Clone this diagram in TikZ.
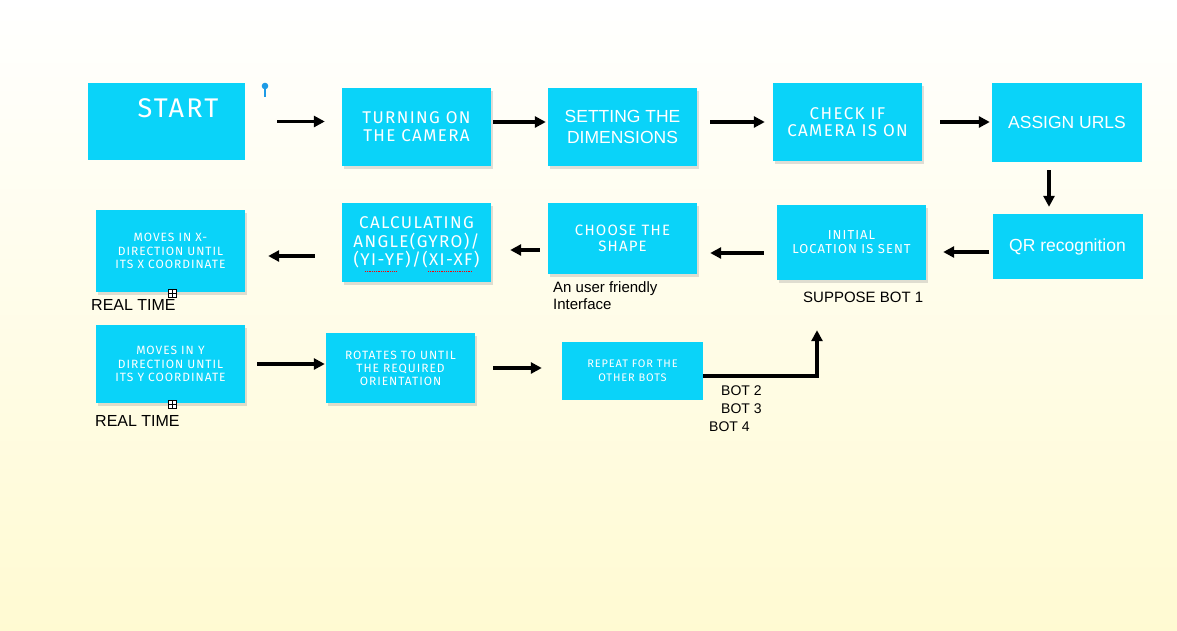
\documentclass[tikz,border=0pt]{standalone}
\usepackage{fontspec}
\newfontfamily\arialfont{Liberation Sans}
\newfontfamily\decofont[LetterSpace=8]{Fira Sans}
\usetikzlibrary{arrows.meta,shadows}
\definecolor{boxcyan}{HTML}{0AD3F9}
\definecolor{creamy}{HTML}{FFFAD2}
\definecolor{pinblue}{HTML}{1E9BE6}

\begin{document}
\begin{tikzpicture}[x=1pt, y=-1pt,
    box/.style={fill=boxcyan, minimum width=149pt, inner sep=2pt, align=center, text=white},
    shadowed/.style={drop shadow={opacity=0.25, shadow xshift=2pt, shadow yshift=-2.5pt}},
    sans/.style={font=\arialfont\fontsize{#1}{#1}\selectfont},
    deco/.style={font=\decofont\fontsize{#1}{#1}\selectfont},
    lbl/.style={text=black, inner sep=0pt, font=\arialfont\fontsize{15}{17}\selectfont},
    arr/.style={line width=3.2pt, -{Triangle[length=11pt,width=11pt]}},
    plusbox/.style={draw, thin, fill=white, minimum size=8pt, inner sep=0pt,
      path picture={\draw[thin] (path picture bounding box.north) -- (path picture bounding box.south)
        (path picture bounding box.west) -- (path picture bounding box.east);}}]
    \shade[top color=white, bottom color=creamy] (0,0) rectangle (1177,630);
    \useasboundingbox (0,0) rectangle (1177,630);

    \node [box, minimum width=157pt, minimum height=77pt] (start) at (166.5,121.5) {};
    \node [text=white, deco=27] (starttxt) at (178,108) {START};
    \draw [pinblue, line width=1.3pt] (265,86) -- (265,97);
    \fill [pinblue] (265,86) circle (3.3);

    \node [box, shadowed, minimum height=78pt, deco=17] (turn) at (416.5,127) {TURNING ON\\[1pt]THE CAMERA};
    \node [box, shadowed, minimum height=78pt, sans=17.5] (setdim) at (622.5,127) {SETTING THE\\[4pt]DIMENSIONS};
    \node [box, shadowed, minimum height=78pt, deco=17] (check) at (847.5,122) {CHECK IF\\CAMERA IS ON};
    \node [box, minimum width=150pt, minimum height=79pt, sans=17.5] (assign) at (1067,122.5) {ASSIGN URLS};

    \node [box, minimum width=150pt, minimum height=65pt, sans=17.5] (qr) at (1067.5,246.5) {QR recognition};
    \node [box, shadowed, minimum height=75pt, deco=13] (init) at (851.5,242.5) {INITIAL\\[1pt]LOCATION IS SENT};
    \node [box, shadowed, minimum height=71pt, deco=15] (shape) at (622.5,238.5) {CHOOSE THE\\[1pt]SHAPE};
    \node [box, shadowed, minimum height=79pt, deco=17] (calc) at (416.5,242.5) {CALCULATING\\[1.5pt]ANGLE(GYRO)/\\[1.5pt](YI-YF)/(XI-XF)};
    \node [box, shadowed, minimum height=82pt, deco=12] (movex) at (170.5,251) {MOVES IN X-\\[1.5pt]DIRECTION UNTIL\\[1.5pt]ITS X COORDINATE};
    \draw [red, densely dotted, thick] (365,271) -- (397,271) (428,271) -- (472,271);

    \node [box, shadowed, minimum height=78pt, deco=12] (movey) at (170.5,364) {MOVES IN Y\\[1.5pt]DIRECTION UNTIL\\[1.5pt]ITS Y COORDINATE};
    \node [box, shadowed, minimum height=70pt, deco=12] (rot) at (400.5,368) {ROTATES TO UNTIL\\[1pt]THE REQUIRED\\[1pt]ORIENTATION};
    \node [box, minimum width=141pt, minimum height=58pt, deco=11] (repeat) at (632.5,371) {REPEAT FOR THE\\[3pt]OTHER BOTS};

    \draw [arr, shorten <=32pt, shorten >=17pt] (start.east) -- (start.east -| turn.west);
    \draw [arr, shorten <=2pt, shorten >=2pt] ([yshift=5pt]turn.east) -- ([yshift=5pt]turn.east -| setdim.west);
    \draw [arr, shorten <=13pt, shorten >=8pt] ([yshift=5pt]setdim.east) -- ([yshift=5pt]setdim.east -| check.west);
    \draw [arr, shorten <=18pt, shorten >=2pt] (check.east) -- (check.east -| assign.west);
    \draw [arr, shorten <=8pt, shorten >=7pt] ([xshift=-18pt]assign.south) -- ([xshift=-18pt]assign.south |- qr.north);
    \draw [arr, shorten <=3pt, shorten >=17pt] ([yshift=-5.5pt]qr.west) -- ([yshift=-5.5pt]qr.west -| init.east);
    \draw [arr, shorten <=13pt, shorten >=13pt] ([yshift=-10.5pt]init.west) -- ([yshift=-10.5pt]init.west -| shape.east);
    \draw [arr, shorten <=8pt, shorten >=19pt] ([yshift=-11.5pt]shape.west) -- ([yshift=-11.5pt]shape.west -| calc.east);
    \draw [arr, shorten <=27pt, shorten >=23pt] ([yshift=-13.5pt]calc.west) -- ([yshift=-13.5pt]calc.west -| movex.east);
    \draw [arr, shorten <=12pt, shorten >=1pt] (movey.east) -- (movey.east -| rot.west);
    \draw [arr, shorten <=18pt, shorten >=20pt] (rot.east) -- (rot.east -| repeat.west);
    \draw [arr, shorten >=50pt] ([yshift=-5pt]repeat.east) -| ([xshift=-34.5pt]init.south);

    \node [lbl, anchor=north west, align=left] (userlbl) at (553,281) {An user friendly\\Interface};
    \node [lbl, anchor=west] (suppose) at (803,297) {SUPPOSE BOT 1};
    \node [lbl, anchor=west, font=\arialfont\fontsize{16}{16}\selectfont] (realx) at (91,305) {REAL TIME};
    \node [lbl, anchor=west, font=\arialfont\fontsize{16}{16}\selectfont] (realy) at (95,421) {REAL TIME};
    \node [plusbox] (plusx) at (172,293) {};
    \node [plusbox] (plusy) at (172,404) {};
    \node [lbl, anchor=west, font=\arialfont\fontsize{14}{14}\selectfont] (bottwo) at (721,391) {BOT 2};
    \node [lbl, anchor=west, font=\arialfont\fontsize{14}{14}\selectfont] (botthree) at (721,409) {BOT 3};
    \node [lbl, anchor=west, font=\arialfont\fontsize{14}{14}\selectfont] (botfour) at (709,427) {BOT 4};
  \end{tikzpicture}
\end{document}
